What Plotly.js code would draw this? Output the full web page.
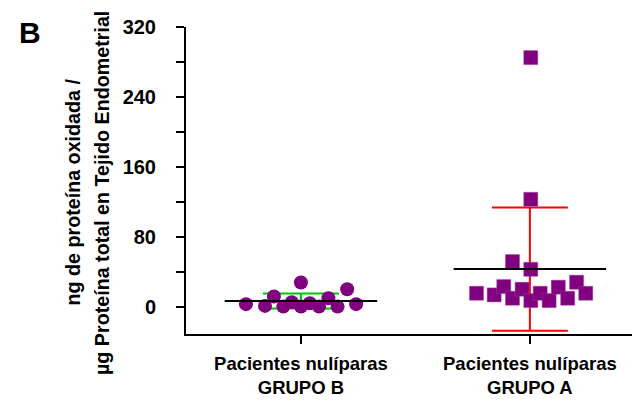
<!DOCTYPE html>
<html>
<head>
<meta charset="utf-8">
<script src="https://cdn.plot.ly/plotly-3.0.1.min.js"></script>
<style>html,body{margin:0;padding:0;background:#fff;}#chart{width:632px;height:401px;}</style>
</head>
<body>
<div id="chart"></div>
<script>
// Categories and tick labels
var categories = ["Pacientes nulíparas<br>GRUPO B", "Pacientes nulíparas<br>GRUPO A"];
var yTickVals = [0, 80, 160, 240, 320];
var yTitleLines = ["ng de proteína oxidada /", "µg Proteína total en Tejido Endometrial"];

// Group B (circles): values and horizontal scatter offsets
var valuesB = [3.1, 1.1, 11.8, 0.3, 5.4, 27.8, 0.3, 4.2, 0.3, 9.9, 0.3, 20.2, 3.1];
var jitterB = [-0.24, -0.157, -0.118, -0.077, -0.04, 0.0, 0.0, 0.039, 0.079, 0.12, 0.16, 0.202, 0.241];

// Group A (squares)
var valuesA = [15.6, 13.7, 23.2, 9.9, 51.8, 20.2, 285, 123, 43, 7.2, 15.6, 7.2, 22.5, 9.9, 28.2, 15.6];
var jitterA = [-0.233, -0.156, -0.114, -0.076, -0.076, -0.034, 0.004, 0.004, 0.004, 0.004, 0.045, 0.084, 0.124, 0.165, 0.204, 0.244];

function mean(a){ return a.reduce(function(s,v){return s+v;},0)/a.length; }
function sd(a){ var m=mean(a); return Math.sqrt(a.reduce(function(s,v){return s+(v-m)*(v-m);},0)/(a.length-1)); }

var purple = "#800080";
var mB = mean(valuesB), sB = sd(valuesB);
var mA = mean(valuesA), sA = sd(valuesA);

var xB = jitterB.map(function(j){ return 0 + j; });
var xA = jitterA.map(function(j){ return 1 + j; });

var traces = [
  // error bars (SD)
  {x:[0], y:[mB], type:"scatter", mode:"markers", marker:{size:1, color:"rgba(0,0,0,0)"},
   error_y:{type:"data", array:[sB], visible:true, color:"#00c800", thickness:2, width:38}, hoverinfo:"skip", showlegend:false},
  {x:[1], y:[mA], type:"scatter", mode:"markers", marker:{size:1, color:"rgba(0,0,0,0)"},
   error_y:{type:"data", array:[sA], visible:true, color:"#ff0000", thickness:2, width:38}, hoverinfo:"skip", showlegend:false},
  // points
  {x:xB, y:valuesB, type:"scatter", mode:"markers", name:"GRUPO B",
   marker:{symbol:"circle", size:14, color:purple, line:{width:0}}, showlegend:false},
  {x:xA, y:valuesA, type:"scatter", mode:"markers", name:"GRUPO A",
   marker:{symbol:"square", size:14, color:purple, line:{width:0.5, color:"#a040a0"}}, showlegend:false},
  // mean lines
  {x:[-0.333, 0.333], y:[mB, mB], type:"scatter", mode:"lines", line:{color:"#000", width:2}, hoverinfo:"skip", showlegend:false},
  {x:[1-0.333, 1+0.333], y:[mA, mA], type:"scatter", mode:"lines", line:{color:"#000", width:2}, hoverinfo:"skip", showlegend:false}
];

var fontFam = "Liberation Sans, Arial, sans-serif";

var layout = {
  width:632, height:401,
  margin:{l:186, r:0, t:27, b:67, pad:0},
  paper_bgcolor:"#fff", plot_bgcolor:"#fff",
  showlegend:false,
  font:{family:fontFam, color:"#000"},
  xaxis:{
    range:[-0.502, 1.446], tickmode:"array", tickvals:[0,1], ticktext:categories,
    showgrid:false, zeroline:false, showline:true, linecolor:"#000", linewidth:2,
    ticks:"outside", ticklen:8, tickwidth:2, tickcolor:"#000",
    tickfont:{family:fontFam, size:18.5, weight:"bold", color:"#000"},
    ticklabelstandoff:4
  },
  yaxis:{
    range:[-31, 320], tickmode:"array", tickvals:yTickVals, ticktext:yTickVals.map(String),
    showgrid:false, zeroline:false, showline:true, linecolor:"#000", linewidth:2,
    ticks:"outside", ticklen:8, tickwidth:2, tickcolor:"#000",
    minor:{tickmode:"array", tickvals:[40,120,200,280], ticks:"outside", ticklen:8, tickwidth:2, tickcolor:"#000", showgrid:false},
    tickfont:{family:fontFam, size:20, weight:"bold", color:"#000"},
    ticklabelstandoff:16
  },
  annotations:[
    {text:yTitleLines[0], textangle:-90,
     xref:"paper", yref:"paper", x:(72-186)/446, y:(334-191.5)/307, xanchor:"center", yanchor:"middle",
     showarrow:false, font:{family:fontFam, size:19.7, weight:"bold", color:"#000"}},
    {text:yTitleLines[1], textangle:-90,
     xref:"paper", yref:"paper", x:(101.5-186)/446, y:(334-193.5)/307, xanchor:"center", yanchor:"middle",
     showarrow:false, font:{family:fontFam, size:19.7, weight:"bold", color:"#000"}},
    {text:"B", xref:"paper", yref:"paper", x:(30-186)/446, y:(334-32)/307, xanchor:"center", yanchor:"middle",
     showarrow:false, font:{family:fontFam, size:30, weight:"bold", color:"#000"}}
  ]
};

Plotly.newPlot("chart", traces, layout, {staticPlot:true, displayModeBar:false});
</script>
</body>
</html>
